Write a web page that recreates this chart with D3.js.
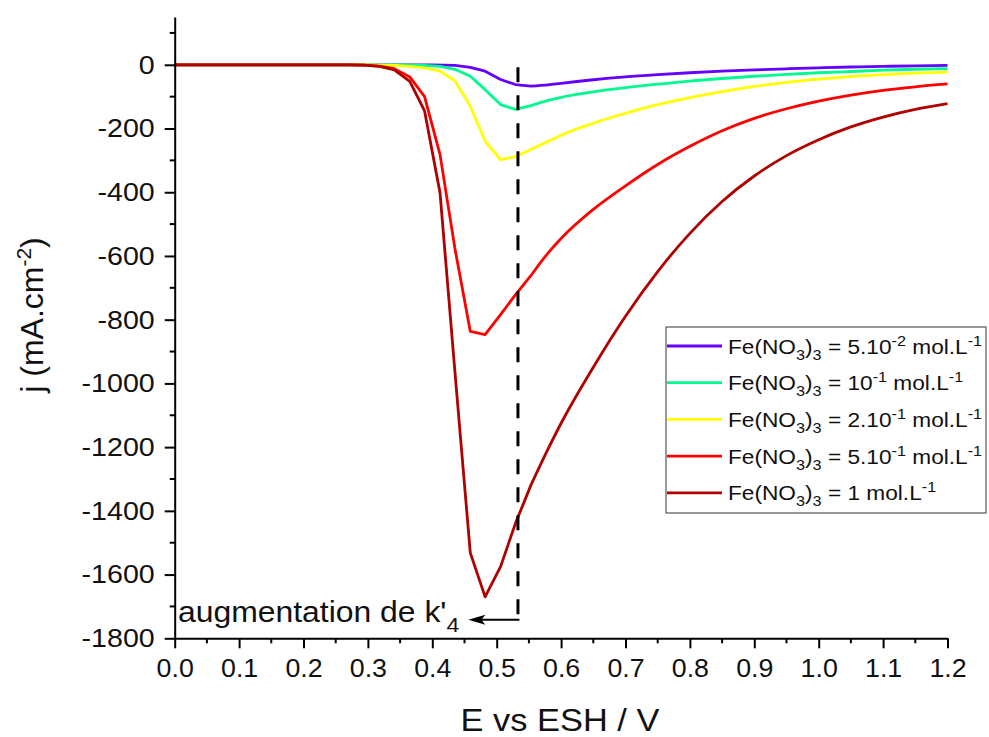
<!DOCTYPE html>
<html><head><meta charset="utf-8">
<script src="https://cdn.jsdelivr.net/npm/d3@7"></script>
<style>
html,body{margin:0;padding:0;background:#fff;}
svg{display:block;font-family:"Liberation Sans",Arial,sans-serif;}
</style></head>
<body>
<svg id="chart" width="989" height="737"></svg>
<script>
// ---------- data (E vs ESH / V, j / mA.cm-2) ----------
const E_c005 = [0, 0.40, 0.435, 0.459, 0.482, 0.506, 0.529, 0.553, 0.58, 0.60, 0.65, 0.70, 0.75, 0.80, 0.85, 0.90, 0.95, 1.00, 1.05, 1.10, 1.15, 1.20];
const J_c005 = [0, 0, -2, -8, -20, -46, -62, -67, -63, -58, -47, -38, -31, -25, -20, -16, -12.5, -9.5, -7, -5, -3.5, -2];

const E_c01 = [0, 0.35, 0.388, 0.412, 0.435, 0.459, 0.482, 0.506, 0.529, 0.553, 0.58, 0.60, 0.65, 0.70, 0.75, 0.80, 0.85, 0.90, 0.95, 1.00, 1.05, 1.10, 1.15, 1.20];
const J_c01 = [0, 0, -2, -5, -14, -36, -78, -125, -140, -128, -112, -102, -85, -72, -61, -51, -43, -36, -30, -25, -21, -17, -14, -12];

const E_c02 = [0, 0.30, 0.341, 0.365, 0.388, 0.412, 0.435, 0.459, 0.482, 0.506, 0.529, 0.553, 0.58, 0.60, 0.65, 0.70, 0.75, 0.80, 0.85, 0.90, 0.95, 1.00, 1.05, 1.10, 1.15, 1.20];
const J_c02 = [0, 0, -2, -5, -10, -20, -50, -130, -240, -298, -288, -266, -240, -221, -183, -152, -125, -103, -84, -68, -55, -45, -37, -31, -26, -23];

const E_c05 = [0, 0.27, 0.294, 0.318, 0.341, 0.365, 0.388, 0.412, 0.435, 0.459, 0.482, 0.506, 0.529, 0.553, 0.58, 0.60, 0.65, 0.70, 0.75, 0.80, 0.85, 0.90, 0.95, 1.00, 1.05, 1.10, 1.15, 1.20];
const J_c05 = [0, 0, -1, -4, -12, -38, -100, -282, -575, -837, -847, -784, -722, -662, -590, -545, -454, -380, -313, -256, -207, -168, -138, -114, -95, -80, -69, -60];

const E_c1 = [0, 0.27, 0.294, 0.318, 0.341, 0.365, 0.388, 0.412, 0.435, 0.459, 0.482, 0.506, 0.529, 0.553, 0.58, 0.60, 0.65, 0.70, 0.75, 0.80, 0.85, 0.90, 0.95, 1.00, 1.05, 1.10, 1.15, 1.20];
const J_c1 = [0, 0, -1, -5, -16, -52, -145, -402, -960, -1532, -1670, -1575, -1440, -1320, -1205, -1125, -949, -789, -649, -529, -429, -349, -285, -235, -195, -164, -140, -122];

const seriesNames = ["5.10|-2", "10|-1", "2.10|-1", "5.10|-1", "1|"];
const seriesColors = ["#6600ff", "#00f990", "#ffff00", "#ff0000", "#b00000"];

const xTicks = [0, 0.1, 0.2, 0.3, 0.4, 0.5, 0.6, 0.7, 0.8, 0.9, 1.0, 1.1, 1.2];
const yTicks = [0, -200, -400, -600, -800, -1000, -1200, -1400, -1600, -1800];
const markerE = 0.533;          // dashed vertical marker
const markerJ = [-8, -1742];    // extent of the dashed marker
const arrowEndE = 0.456;        // arrow tip
const xTitle = "E vs ESH / V";
const annotation = "augmentation de k'";

// ---------- layout ----------
const svg = d3.select("#chart");
const x = d3.scaleLinear().domain([0, 1.2]).range([174.7, 947.5]);
const y = d3.scaleLinear().domain([-1800, 150]).range([638.3, 17]);
const font = '"Liberation Sans", Arial, sans-serif';

// horizontally widen text around its anchor
function stretch(sel, s) {
  sel.each(function () {
    const t = d3.select(this);
    const x0 = +t.attr("x") || 0, y0 = +t.attr("y") || 0;
    t.attr("x", 0).attr("y", 0).attr("transform", `translate(${x0},${y0}) scale(${s},1)`);
  });
}

// curves: sharp segments near the peaks, smooth decay afterwards
const seriesData = [
  E_c005.map((e, i) => [e, J_c005[i]]),
  E_c01.map((e, i) => [e, J_c01[i]]),
  E_c02.map((e, i) => [e, J_c02[i]]),
  E_c05.map((e, i) => [e, J_c05[i]]),
  E_c1.map((e, i) => [e, J_c1[i]])
];
const SPLIT = 0.553;
const lineLin = d3.line().x(d => x(d[0])).y(d => y(d[1]));
const lineSmooth = d3.line().x(d => x(d[0])).y(d => y(d[1])).curve(d3.curveMonotoneX);
function pathFor(pts) {
  const head = pts.filter(p => p[0] <= SPLIT);
  const tail = pts.filter(p => p[0] >= head[head.length - 1][0]);
  return lineLin(head) + lineSmooth(tail).replace(/^M/, "L");
}
svg.append("g").selectAll("path").data(seriesData).join("path")
  .attr("d", pathFor)
  .attr("fill", "none")
  .attr("stroke", (d, i) => seriesColors[i])
  .attr("stroke-width", 2.8)
  .attr("stroke-linejoin", "round");

// axes
const xAxis = d3.axisBottom(x).tickValues(xTicks).tickFormat(d3.format(".1f")).tickSize(10).tickSizeOuter(0).tickPadding(10);
const gx = svg.append("g").attr("transform", `translate(0,${y(-1800)})`).call(xAxis);
gx.select(".domain").attr("stroke", "#000").attr("stroke-width", 2);
gx.selectAll(".tick line").attr("stroke", "#000").attr("stroke-width", 2);
gx.selectAll(".tick text").attr("font-size", 26).attr("font-family", font).attr("fill", "#111");
stretch(gx.selectAll(".tick text"), 1.03);
const xMinor = d3.range(0.05, 1.2, 0.1);
svg.append("g").selectAll("line").data(xMinor).join("line")
  .attr("x1", d => x(d)).attr("x2", d => x(d))
  .attr("y1", y(-1800)).attr("y2", y(-1800) + 5)
  .attr("stroke", "#000").attr("stroke-width", 2);

const yAxis = d3.axisLeft(y).tickValues(yTicks).tickFormat(d => String(d)).tickSize(10).tickSizeOuter(0).tickPadding(10);
const gy = svg.append("g").attr("transform", `translate(${x(0)},0)`).call(yAxis);
gy.select(".domain").attr("stroke", "#000").attr("stroke-width", 2);
gy.selectAll(".tick line").attr("stroke", "#000").attr("stroke-width", 2);
gy.selectAll(".tick text").attr("font-size", 26).attr("font-family", font).attr("fill", "#111");
stretch(gy.selectAll(".tick text"), 1.1);
const yMinor = [100, -100, -300, -500, -700, -900, -1100, -1300, -1500, -1700];
svg.append("g").selectAll("line").data(yMinor).join("line")
  .attr("x1", x(0) - 5).attr("x2", x(0))
  .attr("y1", d => y(d)).attr("y2", d => y(d))
  .attr("stroke", "#000").attr("stroke-width", 2);

// axis titles
const xt = svg.append("text").attr("x", 560).attr("y", 731).attr("text-anchor", "middle")
  .attr("font-size", 31).attr("font-family", font).attr("fill", "#111").text(xTitle);
stretch(xt, 1.11);
const yt = svg.append("text").attr("transform", "translate(43,315) rotate(-90)").attr("text-anchor", "middle")
  .attr("font-size", 32).attr("font-family", font).attr("fill", "#111");
yt.append("tspan").text("j (mA.cm");
yt.append("tspan").attr("dy", -12).attr("font-size", 21).text("-2");
yt.append("tspan").attr("dy", 12).text(")");

// dashed marker and arrow
svg.append("line")
  .attr("x1", x(markerE)).attr("x2", x(markerE))
  .attr("y1", y(markerJ[0])).attr("y2", y(markerJ[1]))
  .attr("stroke", "#000").attr("stroke-width", 3).attr("stroke-dasharray", "15,13");
svg.append("line")
  .attr("x1", x(markerE) + 1.5).attr("x2", x(arrowEndE) + 12)
  .attr("y1", y(markerJ[1])).attr("y2", y(markerJ[1]))
  .attr("stroke", "#000").attr("stroke-width", 2);
const ax = x(arrowEndE), ay = y(markerJ[1]);
svg.append("path")
  .attr("d", `M${ax},${ay} L${ax + 17},${ay - 5} L${ax + 13},${ay} L${ax + 17},${ay + 5} Z`)
  .attr("fill", "#000");

const ann = svg.append("text").attr("x", 178).attr("y", 622)
  .attr("font-size", 29).attr("font-family", font).attr("fill", "#111");
ann.append("tspan").text(annotation);
ann.append("tspan").attr("dy", 10).attr("font-size", 21).text("4");
stretch(ann, 1.1);

// legend
const lg = svg.append("g");
lg.append("rect").attr("x", 666).attr("y", 327).attr("width", 320).attr("height", 186)
  .attr("fill", "#fff").attr("stroke", "#555").attr("stroke-width", 1.2);
seriesNames.forEach((nm, i) => {
  const ry = 346 + i * 36.7;
  lg.append("line").attr("x1", 667).attr("x2", 722).attr("y1", ry).attr("y2", ry)
    .attr("stroke", seriesColors[i]).attr("stroke-width", 2.8);
  const [base, exp] = nm.split("|");
  const t = lg.append("text").attr("x", 728).attr("y", ry + 7.5)
    .attr("font-size", 21).attr("font-family", font).attr("fill", "#111");
  t.append("tspan").text("Fe(NO");
  t.append("tspan").attr("dy", 6).attr("font-size", 15).text("3");
  t.append("tspan").attr("dy", -6).text(")");
  t.append("tspan").attr("dy", 6).attr("font-size", 15).text("3");
  t.append("tspan").attr("dy", -6).text(" = " + base);
  if (exp) {
    t.append("tspan").attr("dy", -8).attr("font-size", 15).text(exp);
    t.append("tspan").attr("dy", 8).text(" mol.L");
  } else {
    t.append("tspan").text(" mol.L");
  }
  t.append("tspan").attr("dy", -8).attr("font-size", 15).text("-1");
  stretch(t, 1.08);
});
</script>
</body></html>
